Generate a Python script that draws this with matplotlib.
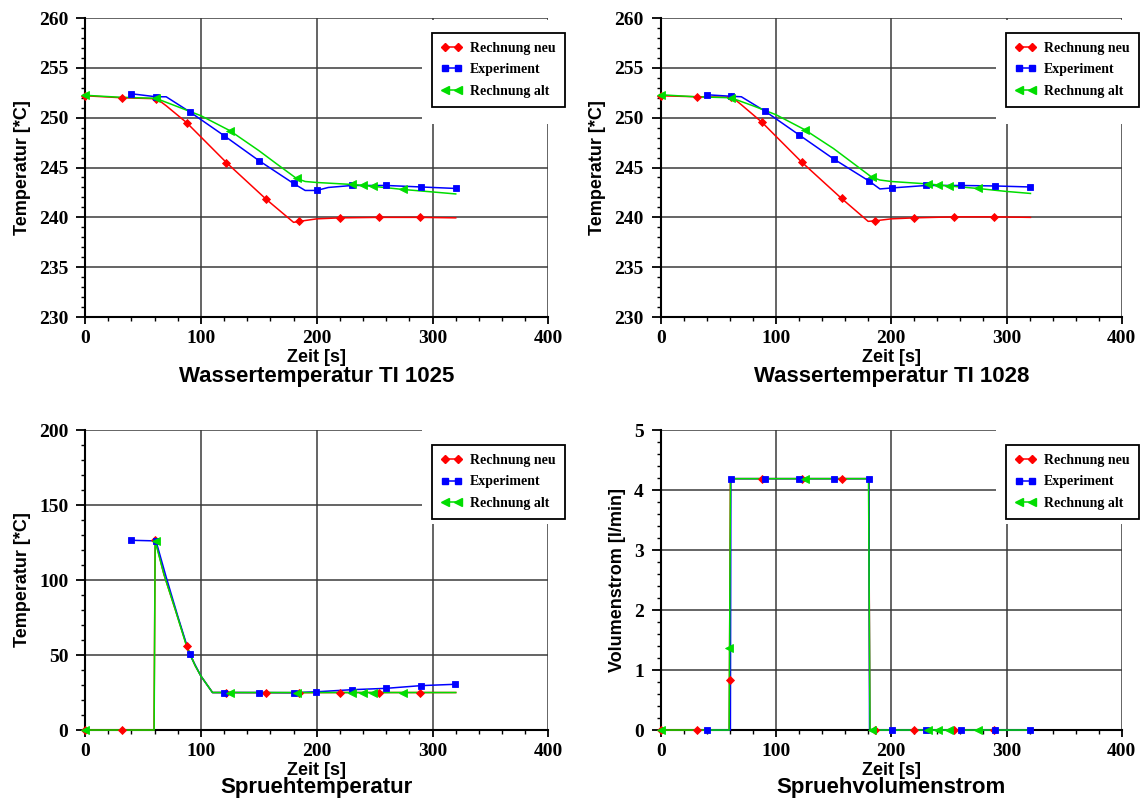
import matplotlib
matplotlib.use("Agg")
import matplotlib.pyplot as plt
from matplotlib.lines import Line2D
from matplotlib.patches import Rectangle
from matplotlib.ticker import MultipleLocator
from matplotlib.font_manager import FontProperties

# ---------------- data ----------------
# Panel 1: Wassertemperatur TI 1025
p1_red_line_x = [0, 31.5, 62, 70, 87.7, 122, 156.5, 180, 185, 200, 220, 254, 289, 320]
p1_red_line_y = [252.2, 252.0, 251.9, 251.2, 249.5, 245.5, 241.8, 239.5, 239.6, 239.85, 239.95, 240.0, 240.0, 239.95]
p1_red_mark_x = [0, 31.5, 61, 87.7, 122, 156.5, 185, 220, 254, 289]
p1_red_mark_y = [252.2, 252.0, 251.9, 249.5, 245.5, 241.8, 239.6, 239.9, 240.0, 240.0]
p1_blue_line_x = [40, 61.2, 70, 90.2, 120, 150, 180, 190, 200, 210, 230.6, 260, 290, 320]
p1_blue_line_y = [252.4, 252.1, 252.1, 250.6, 248.2, 245.7, 243.4, 242.7, 242.7, 243.0, 243.2, 243.2, 243.05, 242.9]
p1_blue_mark_x = [40, 61.2, 90.2, 120, 150, 180, 200, 230.6, 260, 290, 320]
p1_blue_mark_y = [252.4, 252.1, 250.6, 248.2, 245.7, 243.4, 242.7, 243.2, 243.2, 243.05, 242.9]
p1_green_line_x = [0, 30, 61, 80, 100, 125, 150, 165, 182.6, 190, 200, 230.6, 250, 274.4, 300, 320]
p1_green_line_y = [252.25, 252.05, 251.95, 251.1, 250.2, 248.7, 246.7, 245.4, 243.9, 243.6, 243.5, 243.3, 243.1, 242.8, 242.55, 242.35]
p1_green_mark_x = [0, 61, 125, 182.6, 230.6, 239.7, 249, 274.4]
p1_green_mark_y = [252.25, 251.95, 248.7, 243.9, 243.3, 243.2, 243.1, 242.8]

# Panel 2: Wassertemperatur TI 1028
p2_red_line_x = [0, 31.4, 62, 70, 87.8, 122.3, 156.9, 180, 185.7, 200, 220, 254.5, 289.4, 320.8]
p2_red_line_y = [252.2, 252.1, 252.05, 251.3, 249.55, 245.55, 241.9, 239.6, 239.65, 239.85, 239.95, 240.05, 240.05, 240.0]
p2_red_mark_x = [0, 31.4, 60.9, 87.8, 122.3, 156.9, 185.7, 220, 254.5, 289.4]
p2_red_mark_y = [252.2, 252.1, 252.05, 249.55, 245.55, 241.9, 239.65, 239.95, 240.05, 240.05]
p2_blue_line_x = [40.3, 60.9, 70, 90.6, 120.4, 150.2, 180.7, 190.2, 200.3, 230.4, 260.2, 290.3, 320.1]
p2_blue_line_y = [252.3, 252.15, 252.1, 250.65, 248.25, 245.85, 243.65, 242.85, 242.95, 243.2, 243.2, 243.15, 243.05]
p2_blue_mark_x = [40.3, 60.9, 90.6, 120.4, 150.2, 180.7, 200.3, 230.4, 260.2, 290.3, 320.1]
p2_blue_mark_y = [252.3, 252.15, 250.65, 248.25, 245.85, 243.65, 242.95, 243.2, 243.2, 243.15, 243.05]
p2_green_line_x = [0, 30, 60.9, 80, 100, 124.9, 150, 165, 182.9, 190, 200, 232.3, 250, 275.1, 300, 320.8]
p2_green_line_y = [252.3, 252.1, 252.0, 251.2, 250.3, 248.8, 246.9, 245.6, 244.05, 243.75, 243.6, 243.35, 243.15, 242.9, 242.6, 242.4]
p2_green_mark_x = [0, 60.9, 124.9, 182.9, 232.3, 240.6, 249.8, 275.1]
p2_green_mark_y = [252.3, 252.0, 248.8, 244.05, 243.35, 243.25, 243.15, 242.9]

# Panel 3: Spruehtemperatur
p3_red_line_x = [0, 31.5, 59.5, 60.5, 68, 78, 87.7, 95, 100, 110, 122, 156.5, 185, 220, 254, 289, 320]
p3_red_line_y = [0, 0, 0, 127, 104, 80, 56.2, 43, 36, 25, 25, 24.9, 24.9, 25, 25, 25, 25]
p3_red_mark_x = [0, 31.5, 60.5, 87.7, 122, 156.5, 185, 220, 254, 289]
p3_red_mark_y = [0, 0, 127, 56.2, 25, 24.9, 24.9, 25, 25, 25]
p3_blue_line_x = [40, 61.2, 70, 80, 90.2, 100, 110, 120, 150, 180, 199.7, 230.6, 260, 290, 319.6]
p3_blue_line_y = [126.5, 126.1, 102, 76, 50.6, 36, 25, 25, 25, 24.9, 25.5, 26.9, 27.8, 29.6, 30.5]
p3_blue_mark_x = [40, 61.2, 90.2, 120, 150, 180, 199.7, 230.6, 260, 290, 319.6]
p3_blue_mark_y = [126.5, 126.1, 50.6, 25, 25, 24.9, 25.5, 26.9, 27.8, 29.6, 30.5]
p3_green_line_x = [0, 59.6, 60.5, 68, 78, 88, 95, 100, 110, 125, 182.6, 230.6, 274.4, 320]
p3_green_line_y = [0, 0, 126, 104, 80, 55, 43, 36, 25, 25, 25, 25, 25, 25]
p3_green_mark_x = [0, 61, 125, 182.6, 230.6, 239.7, 249, 274.4]
p3_green_mark_y = [0, 126, 25, 25, 25, 25, 25, 25]

# Panel 4: Spruehvolumenstrom
p4_red_line_x = [0, 31.4, 59.5, 60.5, 87.8, 122.3, 156.9, 180.5, 181.5, 185.7, 220, 254.5, 289.4, 320]
p4_red_line_y = [0, 0, 0, 4.19, 4.19, 4.19, 4.19, 4.19, 0, 0, 0, 0, 0, 0]
p4_red_mark_x = [0, 31.4, 60.2, 87.8, 122.3, 156.9, 185.7, 220, 254.5, 289.4]
p4_red_mark_y = [0, 0, 0.84, 4.19, 4.19, 4.19, 0, 0, 0, 0]
p4_blue_line_x = [40.3, 60.5, 60.9, 90.6, 120.4, 150.2, 180.7, 181.2, 200.3, 230.4, 260.2, 290.3, 320.1]
p4_blue_line_y = [0, 0, 4.19, 4.19, 4.19, 4.19, 4.19, 0, 0, 0, 0, 0, 0]
p4_blue_mark_x = [40.3, 60.9, 90.6, 120.4, 150.2, 180.7, 200.3, 230.4, 260.2, 290.3, 320.1]
p4_blue_mark_y = [0, 4.19, 4.19, 4.19, 4.19, 4.19, 0, 0, 0, 0, 0]
p4_green_line_x = [0, 59.4, 60.6, 124.9, 180.3, 181.6, 232.3, 275.1, 320]
p4_green_line_y = [0, 0, 4.19, 4.19, 4.19, 0, 0, 0, 0]
p4_green_mark_x = [0, 59.6, 124.9, 182.9, 232.3, 240.6, 249.8, 275.1]
p4_green_mark_y = [0, 1.36, 4.19, 0, 0, 0, 0, 0]

series_labels = ["Rechnung neu", "Experiment", "Rechnung alt"]
titles = ["Wassertemperatur TI 1025", "Wassertemperatur TI 1028", "Spruehtemperatur", "Spruehvolumenstrom"]
ylabels = ["Temperatur [*C]", "Temperatur [*C]", "Temperatur [*C]", "Volumenstrom [l/min]"]
xlabel = "Zeit [s]"

# ---------------- styling ----------------
RED, BLUE, GREEN = "#ff0000", "#0000ff", "#00dd00"
styles = [(RED, "D", 4.0), (BLUE, "s", 4.6), (GREEN, "<", 5.6)]
GRID = "#3a3a3a"

panels = [
    dict(data=[(p1_red_line_x, p1_red_line_y, p1_red_mark_x, p1_red_mark_y),
               (p1_blue_line_x, p1_blue_line_y, p1_blue_mark_x, p1_blue_mark_y),
               (p1_green_line_x, p1_green_line_y, p1_green_mark_x, p1_green_mark_y)],
         ylim=(230, 260), ymaj=5, ymin=1, rect=[0.0745, 0.6042, 0.4057, 0.3733], top=True),
    dict(data=[(p2_red_line_x, p2_red_line_y, p2_red_mark_x, p2_red_mark_y),
               (p2_blue_line_x, p2_blue_line_y, p2_blue_mark_x, p2_blue_mark_y),
               (p2_green_line_x, p2_green_line_y, p2_green_mark_x, p2_green_mark_y)],
         ylim=(230, 260), ymaj=5, ymin=1, rect=[0.5785, 0.6042, 0.4038, 0.3733], top=True),
    dict(data=[(p3_red_line_x, p3_red_line_y, p3_red_mark_x, p3_red_mark_y),
               (p3_blue_line_x, p3_blue_line_y, p3_blue_mark_x, p3_blue_mark_y),
               (p3_green_line_x, p3_green_line_y, p3_green_mark_x, p3_green_mark_y)],
         ylim=(0, 200), ymaj=50, ymin=10, rect=[0.0745, 0.0886, 0.4057, 0.3745], top=False),
    dict(data=[(p4_red_line_x, p4_red_line_y, p4_red_mark_x, p4_red_mark_y),
               (p4_blue_line_x, p4_blue_line_y, p4_blue_mark_x, p4_blue_mark_y),
               (p4_green_line_x, p4_green_line_y, p4_green_mark_x, p4_green_mark_y)],
         ylim=(0, 5), ymaj=1, ymin=0.2, rect=[0.5785, 0.0886, 0.4038, 0.3745], top=False),
]

tick_font = FontProperties(family="Liberation Serif", weight="bold", size=14)
legend_font = FontProperties(family="Liberation Serif", weight="bold", size=10)
label_font = dict(family="Liberation Sans", weight="bold", size=13)
title_font = dict(family="Liberation Sans", weight="bold", size=16)

fig = plt.figure(figsize=(11.42, 8.01), dpi=100)

for i, p in enumerate(panels):
    ax = fig.add_axes(p["rect"])
    ax.set_xlim(0, 400)
    ax.set_ylim(*p["ylim"])
    ax.xaxis.set_major_locator(MultipleLocator(100))
    ax.xaxis.set_minor_locator(MultipleLocator(20))
    ax.yaxis.set_major_locator(MultipleLocator(p["ymaj"]))
    ax.yaxis.set_minor_locator(MultipleLocator(p["ymin"]))
    ax.set_axisbelow(True)
    ax.grid(True, which="major", color=GRID, linewidth=1.1)
    for s in ("top", "right"):
        ax.spines[s].set_visible(False)
    for s in ("left", "bottom"):
        ax.spines[s].set_linewidth(1.5)
        ax.spines[s].set_zorder(2.5)
    ax.tick_params(axis="y", which="major", direction="out", length=6.5, width=1.3, pad=5.5)
    ax.tick_params(axis="x", which="major", direction="out", length=5, width=1.3, pad=4)
    ax.tick_params(which="minor", direction="out", length=3, width=1.0)
    for lab in ax.get_xticklabels() + ax.get_yticklabels():
        lab.set_fontproperties(tick_font)

    # white area behind the legend (covers grid)
    rtop = 0.995 if p["top"] else 1.01
    rbot = 0.645 if p["top"] else 0.687
    ax.add_patch(Rectangle((0.727, rbot), 0.36, rtop - rbot, transform=ax.transAxes,
                           facecolor="white", edgecolor="none", zorder=1, clip_on=False))

    handles = []
    for (lx, ly, mx, my), (c, m, ms) in zip(p["data"], styles):
        ax.plot(lx, ly, color=c, linewidth=1.1, zorder=3, clip_on=False)
        ax.plot(mx, my, linestyle="none", marker=m, markersize=ms, color=c,
                markeredgewidth=0.6, zorder=4, clip_on=False)
        handles.append(Line2D([], [], color=c, linewidth=1.1, marker=m, markersize=ms))

    leg = ax.legend(handles, series_labels, loc="upper left", bbox_to_anchor=(0.749, 0.950),
                    borderaxespad=0, frameon=True, fancybox=False, prop=legend_font,
                    numpoints=2, handlelength=1.5, handletextpad=0.6, borderpad=0.65,
                    labelspacing=0.6, framealpha=1)
    leg.get_frame().set_edgecolor("black")
    leg.get_frame().set_linewidth(1.3)
    leg.set_zorder(5)

    ax.set_ylabel(ylabels[i], labelpad=6, **label_font)
    ax.set_xlabel(xlabel, **label_font)
    h = 299.0 if p["top"] else 300.0
    ax.xaxis.set_label_coords(0.5, -45.0 / h)
    ax.xaxis.label.set_verticalalignment("baseline")
    ax.set_title(titles[i], y=-(65.0 if p["top"] else 63.0) / h, pad=0, va="baseline", **title_font)

fig.savefig("out.png", dpi=100)
